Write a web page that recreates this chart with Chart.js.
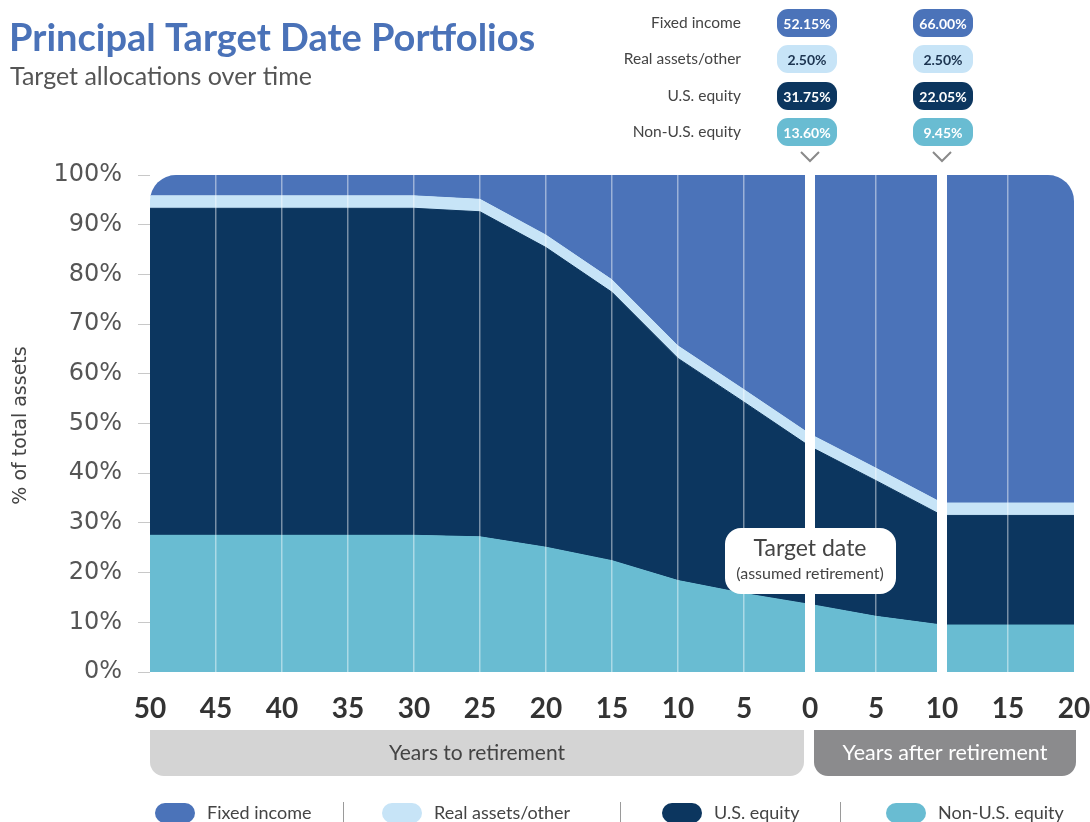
<!DOCTYPE html>
<html>
<head>
<meta charset="utf-8">
<title>Principal Target Date Portfolios</title>
<script src="https://cdn.jsdelivr.net/npm/chart.js@4.4.1/dist/chart.umd.min.js"></script>
<style>
  html, body { margin: 0; padding: 0; background: #fff; }
  #wrap { position: relative; width: 1090px; height: 822px; }
</style>
</head>
<body>
<div id="wrap"><canvas id="glide-chart"></canvas></div>
<script>
// Years relative to the target date (negative = years to retirement)
const years = [-50, -45, -40, -35, -30, -25, -20, -15, -10, -5, 0, 5, 10, 15, 20];

// Allocation (% of total assets) at each year
const nonUsEquity = [27.5, 27.5, 27.5, 27.5, 27.5, 27.2, 25.1, 22.4, 18.4, 15.8, 13.6, 11.2, 9.45, 9.45, 9.45];
const usEquity    = [65.8, 65.8, 65.8, 65.8, 65.8, 65.4, 60.3, 54.0, 44.7, 38.5, 31.75, 27.3, 22.05, 22.05, 22.05];
const realAssets  = [2.5, 2.5, 2.5, 2.5, 2.5, 2.5, 2.5, 2.5, 2.5, 2.5, 2.5, 2.5, 2.5, 2.5, 2.5];
const fixedIncome = [4.2, 4.2, 4.2, 4.2, 4.2, 4.9, 12.1, 21.1, 34.4, 43.2, 52.15, 59.0, 66.0, 66.0, 66.0];

// Years called out in the table at the top right
const calloutYears = [0, 10];

const seriesNames = ['Fixed income', 'Real assets/other', 'U.S. equity', 'Non-U.S. equity'];
const seriesValues = [fixedIncome, realAssets, usEquity, nonUsEquity];
const seriesColors = ['#4b73b9', '#c7e4f7', '#0c365f', '#69bcd2'];
const pillTextColors = ['#ffffff', '#1c3450', '#ffffff', '#ffffff'];

const LATO = "Lato, 'Open Sans', sans-serif";
const DEJAVU = "'DejaVu Sans', sans-serif";

/**
 * Path for a rectangle with individual corner radii [tl, tr, br, bl]
 */
function roundedRect(ctx, x, y, w, h, r) {
  const [tl, tr, br, bl] = Array.isArray(r) ? r : [r, r, r, r];
  ctx.beginPath();
  ctx.moveTo(x + tl, y);
  ctx.lineTo(x + w - tr, y);
  ctx.arcTo(x + w, y, x + w, y + tr, tr);
  ctx.lineTo(x + w, y + h - br);
  ctx.arcTo(x + w, y + h, x + w - br, y + h, br);
  ctx.lineTo(x + bl, y + h);
  ctx.arcTo(x, y + h, x, y + h - bl, bl);
  ctx.lineTo(x, y + tl);
  ctx.arcTo(x, y, x + tl, y, tl);
  ctx.closePath();
}

function text(ctx, str, x, y, font, color, align = 'left') {
  ctx.font = font;
  ctx.fillStyle = color;
  ctx.textAlign = align;
  ctx.textBaseline = 'middle';
  ctx.fillText(str, x, y);
}

// Everything drawn around the plot: rounded plot corners, title, callout table,
// target date label, the two year bands and the legend
const glideExtras = {
  id: 'glideExtras',
  beforeDatasetsDraw(chart) {
    const { ctx, chartArea: a } = chart;
    ctx.save();
    roundedRect(ctx, a.left, a.top, a.right - a.left, a.bottom - a.top, [26, 26, 0, 0]);
    ctx.clip();
  },
  afterDatasetsDraw(chart) {
    chart.ctx.restore();
  },
  afterDraw(chart) {
    const { ctx, chartArea: a } = chart;
    const xs = chart.scales.x;
    ctx.save();

    // Title
    text(ctx, 'Principal Target Date Portfolios', 9, 39, `bold 38px ${LATO}`, '#4a72b8');
    text(ctx, 'Target allocations over time', 10, 77, `25px ${LATO}`, '#555555');

    // Callout table
    const rowY = [23, 59, 96, 132];
    const firstX = xs.getPixelForValue(calloutYears[0]) - 3;
    seriesNames.forEach((name, i) => {
      text(ctx, name, firstX - 66, rowY[i], `15.5px ${LATO}`, '#444444', 'right');
      calloutYears.forEach(yr => {
        const cx = xs.getPixelForValue(yr) + (yr === 0 ? -3 : 1);
        const v = seriesValues[i][years.indexOf(yr)];
        ctx.fillStyle = seriesColors[i];
        roundedRect(ctx, cx - 30, rowY[i] - 14, 60, 28, 11);
        ctx.fill();
        text(ctx, v.toFixed(2) + '%', cx, rowY[i] + 1, `bold 14px ${LATO}`, pillTextColors[i], 'center');
      });
    });
    calloutYears.forEach(yr => {
      const cx = xs.getPixelForValue(yr);
      ctx.strokeStyle = '#8a8a8a';
      ctx.lineWidth = 2;
      ctx.beginPath();
      ctx.moveTo(cx - 9, 152);
      ctx.lineTo(cx, 161);
      ctx.lineTo(cx + 9, 152);
      ctx.stroke();
    });

    // Target date label
    const x0 = xs.getPixelForValue(0);
    ctx.fillStyle = '#ffffff';
    roundedRect(ctx, x0 - 85, 528, 171, 66, 16);
    ctx.fill();
    text(ctx, 'Target date', x0, 549, `23px ${LATO}`, '#444444', 'center');
    text(ctx, '(assumed retirement)', x0, 574, `16px ${LATO}`, '#444444', 'center');

    // Years to / after retirement bands
    const bandTop = 730, bandH = 46;
    ctx.fillStyle = '#d4d4d4';
    roundedRect(ctx, a.left, bandTop, x0 - 6 - a.left, bandH, [0, 0, 14, 14]);
    ctx.fill();
    text(ctx, 'Years to retirement', (a.left + x0 - 6) / 2, bandTop + bandH / 2, `21px ${LATO}`, '#444444', 'center');
    ctx.fillStyle = '#8b8b8d';
    roundedRect(ctx, x0 + 4, bandTop, a.right + 2 - (x0 + 4), bandH, [0, 0, 14, 14]);
    ctx.fill();
    text(ctx, 'Years after retirement', (x0 + 4 + a.right + 2) / 2, bandTop + bandH / 2, `21.5px ${LATO}`, '#ffffff', 'center');

    // Legend
    const legendX = [155, 382, 662, 886];
    const sepX = [343, 620, 840];
    const legendY = 813;
    seriesNames.forEach((name, i) => {
      ctx.fillStyle = seriesColors[i];
      roundedRect(ctx, legendX[i], legendY - 10, 40, 20, 10);
      ctx.fill();
      text(ctx, name, legendX[i] + 52, legendY, `18px ${LATO}`, '#444444');
    });
    ctx.strokeStyle = '#9a9a9a';
    ctx.lineWidth = 1;
    sepX.forEach(sx => {
      ctx.beginPath();
      ctx.moveTo(sx + 0.5, legendY - 11);
      ctx.lineTo(sx + 0.5, legendY + 11);
      ctx.stroke();
    });

    // Y axis title
    ctx.translate(21, (a.top + a.bottom) / 2 + 2);
    ctx.rotate(-Math.PI / 2);
    text(ctx, '% of total assets', 0, 0, `19px ${DEJAVU}`, '#444444', 'center');

    ctx.restore();
  }
};

function buildDatasets() {
  // Bottom to top of the stack
  const stack = [
    { values: nonUsEquity, color: seriesColors[3], fill: 'origin' },
    { values: usEquity, color: seriesColors[2], fill: '-1' },
    { values: realAssets, color: seriesColors[1], fill: '-1' },
    { values: fixedIncome, color: seriesColors[0], fill: '-1' }
  ];
  return stack.map(s => ({
    data: years.map((yr, i) => ({ x: yr, y: s.values[i] })),
    backgroundColor: s.color,
    borderColor: s.color,
    borderWidth: 1,
    pointRadius: 0,
    fill: s.fill,
    tension: 0
  }));
}

document.addEventListener('DOMContentLoaded', () => {
  const canvas = document.getElementById('glide-chart');
  canvas.width = 1090;
  canvas.height = 822;

  new Chart(canvas, {
    type: 'line',
    data: { datasets: buildDatasets() },
    plugins: [glideExtras],
    options: {
      responsive: false,
      animation: false,
      layout: { padding: { top: 175, right: 16, left: 0, bottom: 0 } },
      plugins: {
        legend: { display: false },
        tooltip: { enabled: false }
      },
      scales: {
        x: {
          type: 'linear',
          min: -50,
          max: 20,
          afterFit(scale) {
            scale.height = 150;
            // the end labels may hang over the edges, keep the plot full width
            scale.paddingLeft = 0;
            scale.paddingRight = 0;
          },
          border: { display: false },
          grid: {
            z: 1,
            drawTicks: false,
            color(c) {
              const v = c.tick && c.tick.value;
              if (v === -50 || v === 20) return 'rgba(0,0,0,0)';
              if (v === 0 || v === 10) return '#ffffff';
              return 'rgba(255,255,255,0.45)';
            },
            lineWidth(c) {
              const v = c.tick && c.tick.value;
              return (v === 0 || v === 10) ? 10 : 1.5;
            }
          },
          ticks: {
            stepSize: 5,
            autoSkip: false,
            maxRotation: 0,
            padding: 20,
            color: '#333333',
            font: { family: LATO, size: 28, weight: 'bold' },
            callback: v => Math.abs(v)
          }
        },
        y: {
          stacked: true,
          min: 0,
          max: 100,
          afterFit(scale) { scale.width = 150; },
          border: { display: false },
          grid: {
            drawOnChartArea: false,
            drawTicks: true,
            tickLength: 12,
            color: '#c8c8c8'
          },
          ticks: {
            stepSize: 10,
            padding: 16,
            color: '#555555',
            font: { family: DEJAVU, size: 24 },
            callback: v => v + '%'
          }
        }
      }
    }
  });
});
</script>
</body>
</html>
